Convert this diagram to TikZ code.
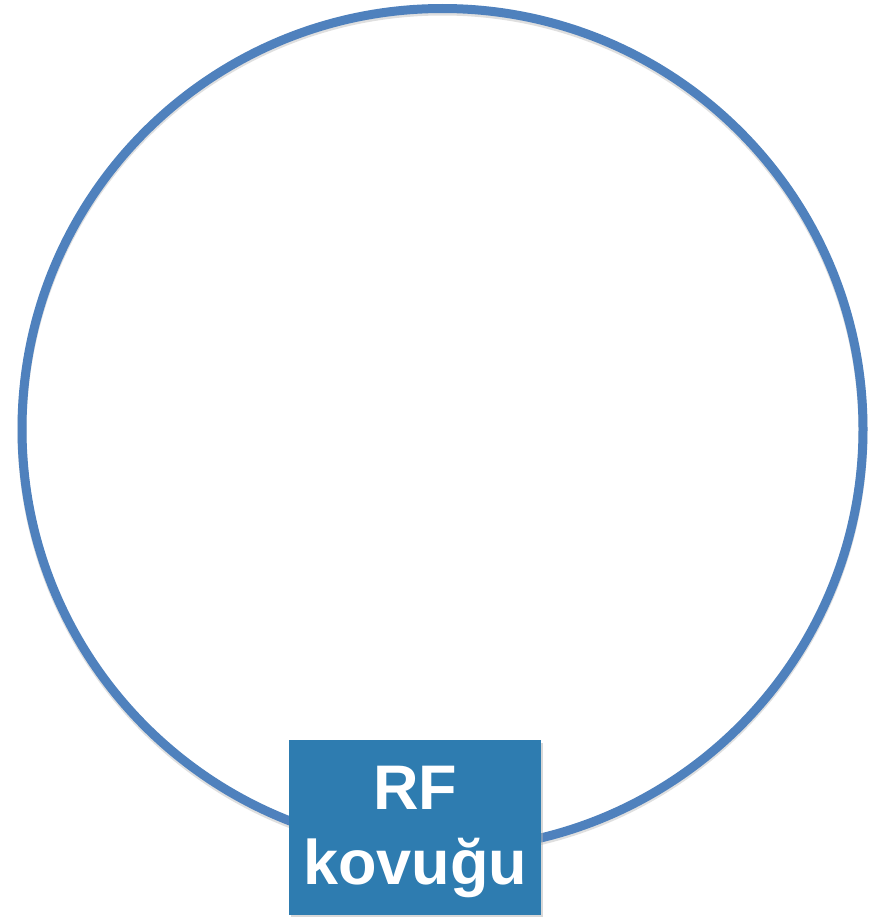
\documentclass[tikz,border=0pt]{standalone}
\usepackage{fontspec}
\setmainfont{Liberation Sans}
\definecolor{ringblue}{RGB}{79,129,189}
\definecolor{boxblue}{RGB}{46,124,176}
\begin{document}
\begin{tikzpicture}[x=1pt,y=-1pt,
  ring/.style={draw=ringblue,line width=9pt},
  ringshadow/.style={draw=black!25,line width=9pt,opacity=0.5},
  label box/.style={fill=boxblue,minimum width=252pt,minimum height=175pt,inner sep=0pt},
  label text/.style={text=white,font=\bfseries\fontsize{63}{75}\selectfont,inner sep=0pt,align=center}]
\useasboundingbox (0,0) rectangle (872,918);
\coordinate (c) at (442.5,429);
\draw[ringshadow] (442.5,431.5) circle[radius=420.5];
\draw[ring] (c) circle[radius=420.5];
\fill[black!30,opacity=0.5] (291,743) rectangle (543,917);
\node[label box] (rf) at (415,827.5) {};
\node[label text] (rftext) at (415,832) {RF\\kovuğu};
\end{tikzpicture}
\end{document}
